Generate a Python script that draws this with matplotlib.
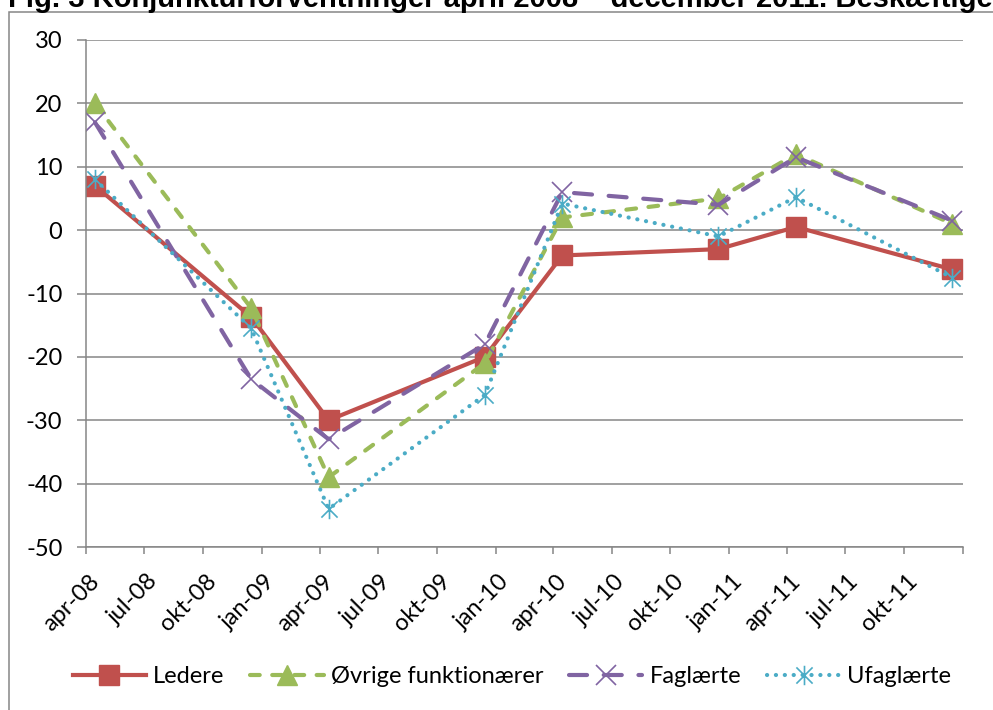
import datetime
import matplotlib
matplotlib.use('Agg')
import matplotlib.pyplot as plt
from matplotlib.path import Path
from matplotlib.patches import Rectangle
from matplotlib.transforms import ScaledTranslation

# survey dates (mid-month) and expectation balances
dates = [datetime.date(2008, 4, 15), datetime.date(2008, 12, 15),
         datetime.date(2009, 4, 15), datetime.date(2009, 12, 15),
         datetime.date(2010, 4, 15), datetime.date(2010, 12, 15),
         datetime.date(2011, 4, 15), datetime.date(2011, 12, 15)]
ledere = [7, -13.7, -30, -20, -4, -3, 0.5, -6.2]
oevrige = [20, -12.3, -39, -21, 2, 5, 12, 1]
faglaerte = [17, -23.5, -33, -18, 6, 4, 11.5, 1.5]
ufaglaerte = [8, -15.5, -44, -26, 4.2, -1, 5.2, -7.5]

tick_dates = [datetime.date(y, m, 1) for y in (2008, 2009, 2010, 2011, 2012)
              for m in (1, 4, 7, 10)
              if datetime.date(2008, 4, 1) <= datetime.date(y, m, 1) <= datetime.date(2012, 1, 1)]
tick_labels = ['apr-08', 'jul-08', 'okt-08', 'jan-09', 'apr-09', 'jul-09', 'okt-09',
               'jan-10', 'apr-10', 'jul-10', 'okt-10', 'jan-11', 'apr-11', 'jul-11',
               'okt-11', '']

title = 'Fig. 3 Konjunkturforventninger april 2008 \u2013 december 2011. Beskæftigelse'

plt.rcParams['font.family'] = ['Lato', 'DejaVu Sans']
plt.rcParams['lines.scale_dashes'] = False
plt.rcParams['axes.unicode_minus'] = False

grey = '#868686'
red = '#C0504D'
green = '#9BBB59'
purple = '#8064A2'
cyan = '#4BACC6'

# Excel style star: an x with a vertical bar through it
star = Path([(-0.5, -0.5), (0.5, 0.5), (-0.5, 0.5), (0.5, -0.5), (0, -0.6), (0, 0.6)],
            [Path.MOVETO, Path.LINETO, Path.MOVETO, Path.LINETO, Path.MOVETO, Path.LINETO])

fig = plt.figure(figsize=(9.93, 7.10), dpi=100)
ax = fig.add_axes([86 / 993, (710 - 547) / 710, (963 - 86) / 993, (547 - 40) / 710])

lw = 3.0
ax.plot(dates, ledere, color=red, lw=lw, marker='s', ms=14, mfc=red, mec=red,
        label='Ledere', solid_joinstyle='round')
ax.plot(dates, oevrige, color=green, lw=lw, ls=(0, (7, 9)), dash_capstyle='round',
        marker='^', ms=15, mfc=green, mec=green, label='Øvrige funktionærer')
ax.plot(dates, faglaerte, color=purple, lw=lw, ls=(0, (13, 12)), dash_capstyle='round',
        marker='x', ms=14, mew=1.2, mec=purple, label='Faglærte')
ax.plot(dates, ufaglaerte, color=cyan, lw=lw, ls=(0, (0.1, 6.3)), dash_capstyle='round',
        marker=star, ms=14, mew=1.2, mec=cyan, label='Ufaglærte')

ax.set_xlim(datetime.date(2008, 4, 1), datetime.date(2012, 1, 1))
ax.set_ylim(-50, 30)
ax.set_yticks(range(-50, 31, 10))
ax.set_xticks(tick_dates)

ax.grid(axis='y', color=grey, lw=1.1)
ax.set_axisbelow(True)
for s in ['top', 'right']:
    ax.spines[s].set_visible(False)
for s in ['left', 'bottom']:
    ax.spines[s].set_color(grey)
    ax.spines[s].set_linewidth(1.1)
ax.tick_params(axis='y', length=6.5, width=1.1, color=grey, pad=10.5, labelsize=17)
ax.tick_params(axis='x', length=5, width=1.1, color=grey, pad=8, labelsize=17)

ax.set_xticklabels(tick_labels, rotation=45, ha='right', va='center', rotation_mode='anchor')
# nudge the slanted labels like Excel does
shift = ScaledTranslation(10 / 100, -13 / 100, fig.dpi_scale_trans)
for lab in ax.get_xticklabels():
    lab.set_transform(lab.get_transform() + shift)

fig.legend(loc='center', bbox_to_anchor=(0.5156, 0.0465), ncol=4, frameon=False,
           fontsize=17, handlelength=3.1, handletextpad=0.3, columnspacing=1.1,
           numpoints=1)

fig.patches.append(Rectangle((9 / 993, -0.1), 2, (710 - 12) / 710 + 0.1,
                             transform=fig.transFigure, fill=False, ec=grey, lw=1.1))
fig.text(8 / 993, 1 - 7 / 710, title, fontfamily='Liberation Sans', fontweight='bold',
         fontsize=21, va='baseline', ha='left')

fig.savefig('out.png', dpi=100)
